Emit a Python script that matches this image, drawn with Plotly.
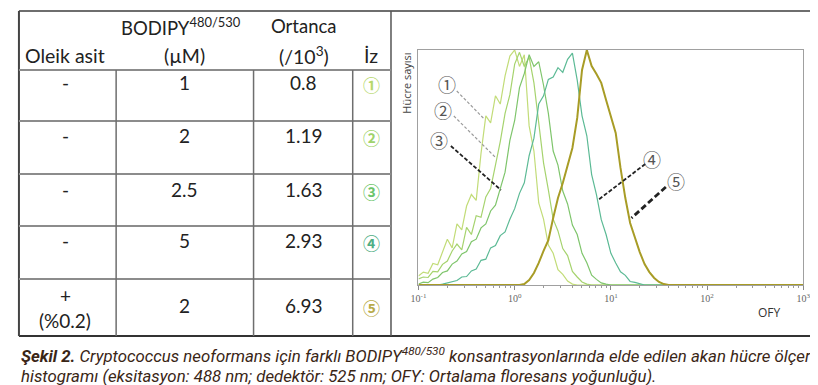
import plotly.graph_objects as go

W, H = 818, 385

# ---------------- data ----------------
# fluorescence channels (OFY), log-spaced bins
ofy_bins = [0.1, 0.1122, 0.1259, 0.1413, 0.1585, 0.1778, 0.1995, 0.2239, 0.2512, 0.2818,
            0.3162, 0.3548, 0.3981, 0.4467, 0.5012, 0.5623, 0.6310, 0.7079, 0.7943, 0.8913,
            1.0, 1.122, 1.259, 1.413, 1.585, 1.778, 1.995, 2.239, 2.512, 2.818,
            3.162, 3.548, 3.981, 4.467, 5.012, 5.623, 6.310, 7.079, 7.943, 8.913,
            10.0, 11.22, 12.59, 14.13, 15.85, 17.78, 19.95, 22.39, 25.12, 28.18,
            31.62, 35.48, 39.81, 1000]

hist_1 = [3.8, 5.5, 5.0, 9.2, 8.6, 14.5, 19.5, 15.8, 26, 23.5,
          33.6, 38.5, 36, 56, 72, 69, 80.5, 77, 89, 97.4,
          100, 93, 98, 67.7, 57, 34.9, 28, 17, 13.5, 6.5,
          4.5, 1.7, 0.4, 0, 0, 0, 0, 0, 0, 0,
          0, 0, 0, 0, 0, 0, 0, 0, 0, 0,
          0, 0, 0, 0]
hist_2 = [2.6, 3.4, 3.2, 5.8, 5.6, 8.8, 10.2, 14.5, 17.4, 14.9,
          24.5, 21.5, 29.5, 28.8, 37.5, 41, 51, 61, 73, 81,
          94, 99, 93, 97, 86, 70, 52, 40.5, 28, 23,
          15.5, 12.5, 5.8, 3.4, 1.3, 0.4, 0, 0, 0, 0,
          0, 0, 0, 0, 0, 0, 0, 0, 0, 0,
          0, 0, 0, 0]
hist_3 = [0.4, 1.2, 1.0, 2.5, 3.2, 5.3, 6.0, 8.9, 10.2, 13.2,
          14.2, 18.4, 19.5, 24.3, 26, 31.5, 34, 41.5, 48, 61.5,
          70, 84, 90, 98, 93, 95, 85, 73, 57, 51,
          40, 34.5, 25.5, 21.5, 13.5, 9.5, 4.2, 2.4, 0.9, 0.4,
          0, 0, 0, 0, 0, 0, 0, 0, 0, 0,
          0, 0, 0, 0]
hist_4 = [0, 0, 0, 0, 0, 0.4, 0.9, 1.6, 1.9, 3.4,
          3.6, 6.0, 6.8, 10.5, 11, 15.8, 16.8, 21, 22.6, 28,
          32.5, 39, 43.5, 55, 62.5, 77, 80.5, 87.5, 88.5, 92.5,
          90.5, 96, 98.7, 87.2, 72, 63.5, 47, 38.5, 27.8, 21.5,
          13.5, 9.4, 5.6, 4.1, 1.5, 1.1, 0.4, 0, 0, 0,
          0, 0, 0, 0]
hist_5 = [0, 0, 0, 0, 0, 0, 0, 0, 0, 0,
          0, 0, 0, 0, 0, 0, 0, 0, 0, 0,
          0, 0, 0.4, 2.1, 5.1, 9.4, 14.5, 19.1, 28.5, 37,
          43.4, 50.6, 58.3, 71.1, 91.5, 100, 93.2, 89.8, 86, 78.7,
          71.1, 64.7, 49.8, 37, 26.4, 20, 14, 8.9, 5.5, 3.0,
          1.3, 0.4, 0, 0]

series = [hist_1, hist_2, hist_3, hist_4, hist_5]
series_colors = ["#c2dc78", "#a6d36e", "#7fc56c", "#5cba95", "#a89c26"]
series_widths = [1.2, 1.2, 1.2, 1.2, 2.0]

table_header_1 = ["", "BODIPY<sup>480/530</sup>", "Ortanca", ""]
table_header_2 = ["Oleik asit", "(µM)", "(/10<sup>3</sup>)", "İz"]
table_oleik = ["-", "-", "-", "-", "+"]
table_oleik_extra = ["", "", "", "", "(%0.2)"]
table_bodipy = ["1", "2", "2.5", "5", "2"]
table_ortanca = ["0.8", "1.19", "1.63", "2.93", "6.93"]
table_iz = ["①", "②", "③", "④", "⑤"]
iz_colors = ["#b6d86c", "#9fd36b", "#6cc46a", "#4fae84", "#b8ab4a"]

tick_vals = [0.1, 1, 10, 100, 1000]
tick_text = ["10<sup>-1</sup>", "10<sup>0</sup>", "10<sup>1</sup>", "10<sup>2</sup>", "10<sup>3</sup>"]


def px(x):
    return x / W


def py(y):
    return 1 - y / H


fig = go.Figure()
for ys, c, w in zip(series, series_colors, series_widths):
    fig.add_trace(go.Scatter(x=ofy_bins, y=ys, mode="lines",
                             line=dict(color=c, width=w), showlegend=False,
                             hoverinfo="skip"))

shapes = []


def hline(y, x0, x1, color, width):
    shapes.append(dict(type="line", xref="paper", yref="paper",
                       x0=px(x0), x1=px(x1), y0=py(y), y1=py(y),
                       line=dict(color=color, width=width)))


def vline(x, y0, y1, color, width):
    shapes.append(dict(type="line", xref="paper", yref="paper",
                       x0=px(x), x1=px(x), y0=py(y0), y1=py(y1),
                       line=dict(color=color, width=width)))


# outer frame
hline(3, 3, 812, "#6e6e6e", 2)
hline(328, 3, 812, "#333333", 2)
vline(3, 3, 328, "#444444", 2)
vline(812, 3, 328, "#444444", 2)
vline(382, 3, 328, "#555555", 1.5)
# table rows
for yy in [62, 113, 166, 218, 271]:
    hline(yy, 3, 382, "#8c8c8c", 2)
# table columns
for xx in [102, 242, 343]:
    vline(xx, 62, 328, "#6e6e6e", 1.5)

# leader lines
leaders = [
    (449, 83, 477, 111, "#9a9a9a", 1.2, "3px,2px"),
    (446, 108, 489, 150, "#9a9a9a", 1.2, "3px,2px"),
    (443, 138, 494, 182, "#222222", 1.8, "4px,2px"),
    (641, 156, 593, 192, "#222222", 1.8, "4px,2px"),
    (662, 179, 627, 210, "#222222", 2.8, "6px,3px"),
]
for x0, y0, x1, y1, c, w, d in leaders:
    shapes.append(dict(type="line", xref="paper", yref="paper",
                       x0=px(x0), y0=py(y0), x1=px(x1), y1=py(y1),
                       line=dict(color=c, width=w, dash=d)))

annotations = []
TFONT = "Lato, 'Open Sans', sans-serif"


def text(x, y, s, size, color="#222222", family=TFONT, xanchor="center", **kw):
    annotations.append(dict(xref="paper", yref="paper", x=px(x), y=py(y), text=s,
                            showarrow=False, xanchor=xanchor, yanchor="middle",
                            font=dict(size=size, color=color, family=family), **kw))


col_x = [50, 168, 293, 362]
for i in range(4):
    if table_header_1[i]:
        text(col_x[i], 18, table_header_1[i], 18.5)
    text(col_x[i] if i != 1 else 172, 47, table_header_2[i], 19.5)

row_y = [74, 127, 181, 232, 297]
CJK = "'Noto Sans CJK JP', sans-serif"
for r in range(5):
    if table_oleik_extra[r]:
        text(col_x[0], 287, table_oleik[r], 19)
        text(col_x[0], 312, table_oleik_extra[r], 19)
    else:
        text(col_x[0], row_y[r], table_oleik[r], 19)
    text(172, row_y[r], table_bodipy[r], 19)
    text(col_x[2], row_y[r], table_ortanca[r], 19)
    text(col_x[3], row_y[r] + 2, "<b>" + table_iz[r] + "</b>", 17, color=iz_colors[r], family=CJK)

# chart labels
label_pos = [(439, 76), (435, 102), (431, 132), (648, 151), (672, 173)]
for (lx, ly), s in zip(label_pos, table_iz):
    text(lx, ly, s, 18, color="#555555", family=CJK)

text(398, 75, "Hücre sayısı", 11, color="#444444", family="'Open Sans', sans-serif", textangle=-90)
text(768, 304, "OFY", 12, color="#333333", family="'Open Sans', sans-serif")

CAP = "'Liberation Sans Narrow', 'Roboto', sans-serif"
text(3, 347, "<b><i>Şekil 2.</i></b><i> Cryptococcus neoformans için farklı BODIPY<sup>480/530</sup> "
     "konsantrasyonlarında elde edilen akan hücre ölçer</i>", 16.8, color="#3a2616",
     family=CAP, xanchor="left")
text(3, 368, "<i>histogramı (eksitasyon: 488 nm; dedektör: 525 nm; OFY: Ortalama floresans yoğunluğu).</i>",
     16.8, color="#3a2616", family=CAP, xanchor="left")

fig.update_layout(
    width=W, height=H,
    margin=dict(l=0, r=0, t=0, b=0),
    paper_bgcolor="white", plot_bgcolor="white",
    shapes=shapes, annotations=annotations,
    xaxis=dict(type="log", range=[-1, 3], domain=[px(410), px(802)],
               tickmode="array", tickvals=tick_vals, ticktext=tick_text,
               ticks="outside", ticklen=4, tickcolor="#888888",
               tickfont=dict(size=10, color="#666666", family="'Liberation Serif', serif"),
               showline=True, linecolor="#a0a0a0", linewidth=1, mirror=True,
               showgrid=False, zeroline=False,
               minor=dict(ticks="outside", ticklen=2, tickcolor="#999999", dtick="D1", showgrid=False)),
    yaxis=dict(range=[0, 100], domain=[py(277), py(42)],
               showticklabels=False, ticks="", showgrid=False, zeroline=False,
               showline=True, linecolor="#a0a0a0", linewidth=1, mirror=True),
)

fig.write_html("out.html")
